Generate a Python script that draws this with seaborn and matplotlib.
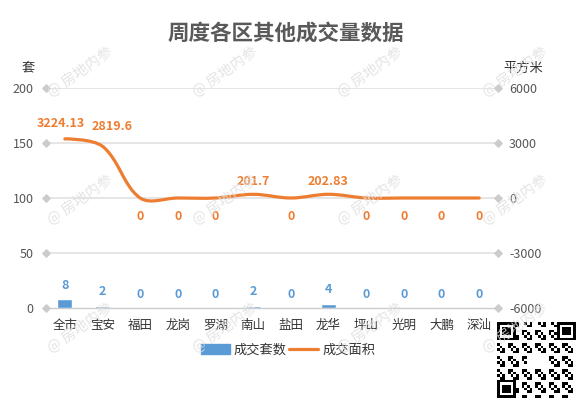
import numpy as np
import matplotlib
matplotlib.use("Agg")
import matplotlib.pyplot as plt
from matplotlib.path import Path
from matplotlib.patches import PathPatch, Rectangle
from matplotlib.lines import Line2D
import seaborn as sns

# data
districts = ['全市', '宝安', '福田', '龙岗', '罗湖', '南山', '盐田', '龙华', '坪山', '光明', '大鹏', '深汕']
units = [8, 2, 0, 0, 0, 2, 0, 4, 0, 0, 0, 0]
area = [3224.13, 2819.6, 0, 0, 0, 201.7, 0, 202.83, 0, 0, 0, 0]
left_ticks = [0, 50, 100, 150, 200]
right_ticks = [-6000, -3000, 0, 3000, 6000]

BLUE = '#5b9bd5'
ORANGE = '#ed7d31'

sns.set_theme(style='white')
plt.rcParams['font.family'] = ['Noto Sans CJK SC', 'DejaVu Sans']
plt.rcParams['axes.unicode_minus'] = False


def smooth_path(xs, ys, sx, sy, smooth=0.35):
    """Echarts-like smooth polyline as cubic bezier path."""
    pts = np.column_stack([xs, ys]).astype(float)
    n = len(pts)
    scale = np.array([sx, sy])
    cps_in, cps_out = [], []
    for i in range(n):
        p = pts[i]
        if i == 0 or i == n - 1:
            cps_in.append(p)
            cps_out.append(p)
            continue
        prev, nxt = pts[i - 1], pts[i + 1]
        v = (nxt - prev) * smooth
        d0 = np.hypot(*((p - prev) * scale))
        d1 = np.hypot(*((nxt - p) * scale))
        r = d1 / (d0 + d1)
        cps_in.append(p - v * (1 - r))
        cps_out.append(p + v * r)
    verts = [pts[0]]
    codes = [Path.MOVETO]
    for i in range(n - 1):
        verts += [cps_out[i], cps_in[i + 1], pts[i + 1]]
        codes += [Path.CURVE4] * 3
    return Path(verts, codes)


fig = plt.figure(figsize=(5.76, 3.98), dpi=100)
ax = fig.add_axes([46 / 576, 1 - 308 / 398, 452 / 576, 220 / 398])

sns.barplot(x=districts, y=units, color=BLUE, width=0.4, saturation=1, ax=ax, zorder=3)
ax.set_xlim(-0.5, len(districts) - 0.5)
ax.set_ylim(0, 200)
ax.set_yticks(left_ticks)
ax.set_xlabel('')
ax.set_ylabel('')
for y in left_ticks[1:]:
    ax.axhline(y, color='#e6e6e6', lw=1.4, zorder=0)
for s in ['top', 'left', 'right']:
    ax.spines[s].set_visible(False)
ax.spines['bottom'].set_color('#cccccc')
ax.spines['bottom'].set_linewidth(1.0)
ax.tick_params(axis='y', length=0, pad=9, labelsize=9, labelcolor='#555555')
ax.tick_params(axis='x', length=0, pad=8, labelsize=9, labelcolor='#333333')

# diamond tick markers
ax.scatter([0] * len(left_ticks), left_ticks, marker='D', s=14, color='#cccccc',
           transform=ax.get_yaxis_transform(), clip_on=False, zorder=4)
ax.scatter([1] * len(left_ticks), left_ticks, marker='D', s=14, color='#cccccc',
           transform=ax.get_yaxis_transform(), clip_on=False, zorder=4)

for i, u in enumerate(units):
    ax.annotate(f'{u:g}', (i, u), xytext=(0, 10), textcoords='offset points',
                ha='center', va='center', fontsize=9, fontweight='bold', color=BLUE)

ax2 = ax.twinx()
ax2.set_ylim(-6000, 6000)
ax2.set_yticks(right_ticks)
for s in ['top', 'left', 'right', 'bottom']:
    ax2.spines[s].set_visible(False)
ax2.tick_params(axis='y', length=0, pad=8, labelsize=9, labelcolor='#555555')
ax2.grid(False)

sx = 452 / len(districts)
sy = 220 / 12000
path = smooth_path(np.arange(len(area)), area, sx, sy)
ax2.add_patch(PathPatch(path, fill=False, ec=ORANGE, lw=2.3, capstyle='round', zorder=5))

# label nudges to avoid overlap (points)
nudge = {0: (-3, 11), 1: (7, 14)}
for i, a in enumerate(area):
    dx, dy = nudge.get(i, (0, 9 if a != 0 else -13))
    ax2.annotate(f'{a:g}', (i, a), xytext=(dx, dy), textcoords='offset points',
                 ha='center', va='center', fontsize=9, fontweight='bold', color=ORANGE)

# titles and axis names
fig.text(286 / 576, 1 - 33 / 398, '周度各区其他成交量数据', ha='center', va='center',
         fontsize=15.5, fontweight='bold', color='#595959')
fig.text(28 / 576, 1 - 68 / 398, '套', ha='center', va='center', fontsize=9.5, color='#333333')
fig.text(523 / 576, 1 - 68 / 398, '平方米', ha='center', va='center', fontsize=9.5, color='#333333')

# legend
handles = [Rectangle((0, 0), 1, 1, color=BLUE), Line2D([0], [0], color=ORANGE, lw=2.3)]
fig.legend(handles, ['成交套数', '成交面积'], loc='center', bbox_to_anchor=(288 / 576, 1 - 350 / 398),
           ncol=2, frameon=False, fontsize=9.5, handlelength=2.2, handleheight=0.8,
           columnspacing=0.2, handletextpad=0.3, labelcolor='#333333')

# watermarks
for wy in [72, 200, 328]:
    for wx in [80, 225, 370, 515]:
        fig.text(wx / 576, 1 - wy / 398, '@ 房地内参', ha='center', va='center', rotation=35,
                 fontsize=10.5, color='#dedede', alpha=0.8, zorder=10)

# qr-like badge
qr = fig.add_axes([497 / 576, 0, 79 / 576, 76 / 398])
n = 29
ii, jj = np.indices((n, n))
grid = ((ii * 7 + jj * 13 + ii * jj) % 5 < 2).astype(float)
for (r0, c0) in [(0, 0), (0, n - 7), (n - 7, 0)]:
    block = np.ones((7, 7))
    block[1:6, 1:6] = 0
    block[2:5, 2:5] = 1
    grid[r0:r0 + 7, c0:c0 + 7] = block
grid[12:17, 11:18] = 0
qr.imshow(1 - grid, cmap='gray', interpolation='nearest', vmin=0, vmax=1, aspect='auto')
qr.axis('off')

fig.savefig('out.png', dpi=100)
